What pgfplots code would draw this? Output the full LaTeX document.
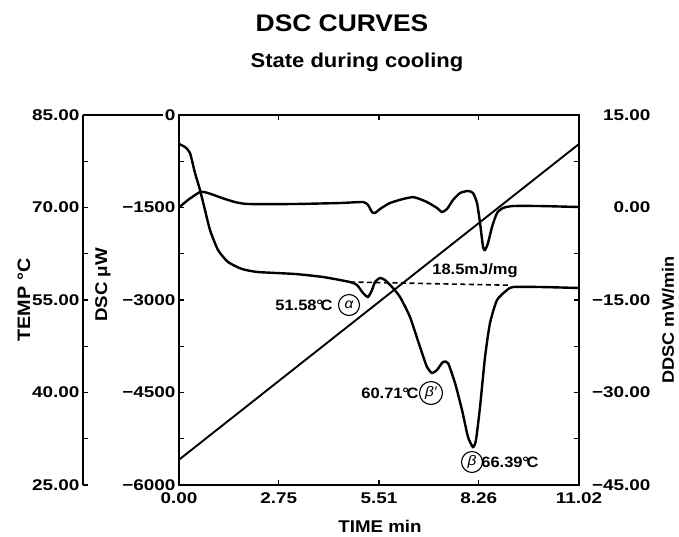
\documentclass[border=0pt]{standalone}
\usepackage{fontspec}
\setmainfont{Liberation Sans}[FakeStretch=1.1]
\newfontfamily\widefont{Liberation Sans}[FakeStretch=1.22]
\usepackage{pgfplots}
\usepackage{pgfplotstable}
\pgfplotsset{compat=1.18}

\pgfplotstableread{
t dsc
0 -470
0.165 -519
0.303 -616
0.441 -941
0.579 -1216
0.716 -1541
0.854 -1865
1.074 -2189
1.350 -2384
1.736 -2497
2.176 -2546
3.196 -2578
3.967 -2627
4.711 -2708
4.904 -2757
5.069 -2886
5.207 -2951
5.317 -2838
5.400 -2708
5.538 -2643
5.675 -2676
5.868 -2789
6.089 -2951
6.364 -3276
6.640 -3762
6.832 -4086
6.970 -4184
7.108 -4135
7.273 -4005
7.411 -4022
7.604 -4346
7.797 -4784
7.962 -5222
8.100 -5384
8.182 -5270
8.293 -4735
8.431 -3924
8.568 -3373
8.761 -3000
9.037 -2838
9.202 -2789
9.945 -2789
11.02 -2805
}\dscdata

\pgfplotstableread{
t ddsc
0 0.0
0.248 1.22
0.579 2.51
0.799 2.35
1.185 1.54
1.543 0.89
1.901 0.57
3.196 0.57
4.436 0.73
5.069 0.89
5.207 0.41
5.317 -0.73
5.400 -0.89
5.538 -0.24
5.813 0.73
6.171 1.38
6.447 1.70
6.557 1.54
6.832 0.89
7.108 -0.08
7.246 -0.73
7.383 -0.24
7.549 1.22
7.742 2.35
7.962 2.68
8.100 2.35
8.210 0.73
8.293 -2.51
8.376 -6.40
8.431 -6.89
8.513 -5.76
8.623 -3.16
8.761 -0.89
8.926 -0.08
9.202 0.24
9.945 0.24
11.02 0.08
}\ddscdata

\pgfplotstableread{
t temp
0 29.1
11.02 80.3
}\tempdata

\newcommand{\tickfont}{\fontsize{15.5}{15.5}\widefont\bfseries\selectfont}
\newcommand{\annfont}{\fontsize{15}{15}\bfseries\selectfont}
\newcommand{\degC}{\kern-0.3pt°\kern-2.2pt C}
\pgfplotsset{
  base/.style={scale only axis, height=370pt, anchor=south west,
    tick align=inside, major tick length=5pt, minor tick length=5pt,
    tick style={line width=1.1pt, black},
    axis line style={line width=1.5pt},
    tick label style={font=\tickfont}},
  mainbox/.style={base, width=400pt, xmin=0, xmax=11.02, at={(179pt,-485pt)}},
}

\begin{document}
\begin{tikzpicture}
\useasboundingbox (0pt,0pt) rectangle (679pt,-536pt);

% TEMP axis (outer left)
\begin{axis}[base, width=496pt, at={(83pt,-485pt)},
  xmin=-2.6448, xmax=11.02, ymin=25, ymax=85,
  axis x line=none, axis y line*=left,
  ytick={25,40,55,70,85}, yticklabels={25.00,40.00,55.00,70.00,85.00},
  minor y tick num=1]
  \addplot[line width=1.9pt, black] table[x=t, y=temp] {\tempdata};
\end{axis}

% DSC main axis
\begin{axis}[mainbox, ymin=-6000, ymax=0,
  xtick={0,2.75,5.51,8.26,11.02}, xticklabels={0.00,2.75,5.51,8.26,11.02},
  minor x tick num=4, xtick pos=both, xticklabel pos=bottom,
  xticklabel style={yshift=-4pt},
  ytick={-6000,-4500,-3000,-1500,0},
  yticklabels={−6000,−4500,−3000,−1500,0},
  minor y tick num=1, ytick pos=left]
  \addplot[line width=2.4pt, black, smooth, tension=0.35] table[x=t, y=dsc] {\dscdata};
  \addplot[line width=1.6pt, black, dash pattern=on 5pt off 3.5pt] coordinates {(4.711,-2708) (9.10,-2760)};
\end{axis}

% DDSC axis (right)
\begin{axis}[mainbox, ymin=-45, ymax=15,
  axis x line=none, axis y line*=right,
  ytick={-45,-30,-15,0,15},
  yticklabels={−45.00,−30.00,−15.00,0.00,15.00},
  minor y tick num=1,
  yticklabel style={anchor=east, xshift=75pt}]
  \addplot[line width=2.4pt, black, smooth, tension=0.35] table[x=t, y=ddsc] {\ddscdata};
\end{axis}

\draw[line width=1.5pt] (83pt,-115pt) -- (163pt,-115pt);

% titles and labels
\node[font=\fontsize{24}{24}\bfseries\selectfont] at (342pt,-23pt) {DSC CURVES};
\node[font=\fontsize{20}{20}\bfseries\selectfont] at (357pt,-62pt) {State during cooling};
\node[font=\fontsize{18}{18}\bfseries\selectfont, rotate=90] at (24pt,-300pt) {TEMP °C};
\node[font=\fontsize{17}{17}\bfseries\selectfont, rotate=90] at (103pt,-285pt) {DSC μW};
\node[font=\fontsize{17}{17}\bfseries\selectfont] at (380pt,-526pt) {TIME min};
\node[font=\fontsize{16.5}{16.5}\bfseries\selectfont, rotate=90] at (668pt,-320pt) {DDSC mW/min};

% annotations
\node[font=\annfont] at (304pt,-305pt) {51.58\degC};
\node[draw, circle, line width=1.1pt, minimum size=21pt, inner sep=0pt, font=\fontsize{14}{14}\itshape\selectfont] at (349pt,-305pt) {α};
\node[font=\annfont] at (475pt,-271pt) {18.5mJ/mg};
\node[font=\annfont] at (390pt,-393pt) {60.71\degC};
\node[draw, circle, line width=1.1pt, minimum size=23pt, inner sep=0pt, font=\fontsize{14}{14}\itshape\selectfont] at (431pt,-393pt) {β′};
\node[draw, circle, line width=1.1pt, minimum size=21pt, inner sep=0pt, font=\fontsize{14}{14}\itshape\selectfont] at (472pt,-462pt) {β};
\node[font=\annfont] at (510pt,-462pt) {66.39\degC};
\end{tikzpicture}
\end{document}
